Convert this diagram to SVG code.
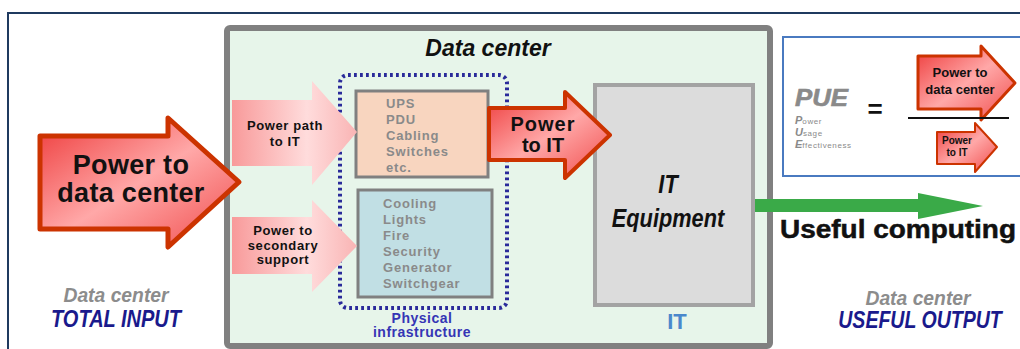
<svg xmlns="http://www.w3.org/2000/svg" width="1020" height="349" viewBox="0 0 1020 349">
<defs>
<style>
text{font-family:"Liberation Sans",Arial,sans-serif;}
.b{font-weight:bold;}
.bi{font-weight:bold;font-style:italic;}
.dark{fill:#111;}
.gtxt{fill:#8a8a8a;font-weight:bold;font-size:13px;letter-spacing:0.8px;}
.redarrow{fill:url(#redg);stroke:#cc3300;stroke-linejoin:round;}
.pinkarrow{fill:url(#pinkg);}
</style>
<linearGradient id="redg" x1="0" y1="0" x2="1" y2="1">
<stop offset="0" stop-color="#ee3a3a"/>
<stop offset="0.5" stop-color="#ffa8a8"/>
<stop offset="1" stop-color="#f04a4a"/>
</linearGradient>
<linearGradient id="pinkg" x1="0" y1="0" x2="1" y2="0">
<stop offset="0" stop-color="#f89a9a"/>
<stop offset="0.6" stop-color="#ffdcdc"/>
<stop offset="1" stop-color="#f9b4b4"/>
</linearGradient>
</defs>
<rect width="1020" height="349" fill="#ffffff"/>
<path d="M8,349 V13 H1020" fill="none" stroke="#1f3a5f" stroke-width="2"/>

<g id="datacenter">
<rect x="227" y="28" width="543" height="318" rx="3" fill="#e7f5ea" stroke="#808080" stroke-width="6"/>
<text x="488" y="56" font-size="23" text-anchor="middle" class="bi dark">Data center</text>
</g>

<g id="pue-box">
<rect x="783" y="37" width="245" height="139" fill="#ffffff" stroke="#4a7ac0" stroke-width="2"/>
<text x="795" y="106" font-size="23" class="bi" fill="#8a8a8a" stroke="#8a8a8a" stroke-width="0.6" textLength="53" lengthAdjust="spacingAndGlyphs">PUE</text>
<text x="795" y="124" fill="#8a8a8a"><tspan class="bi" font-size="11">P</tspan><tspan font-size="8" letter-spacing="0.6">ower</tspan></text>
<text x="795" y="136" fill="#8a8a8a"><tspan class="bi" font-size="11">U</tspan><tspan font-size="8" letter-spacing="0.6">sage</tspan></text>
<text x="795" y="148" fill="#8a8a8a"><tspan class="bi" font-size="11">E</tspan><tspan font-size="8" letter-spacing="0.6">ffectiveness</tspan></text>
<text x="875" y="118" font-size="26" text-anchor="middle" class="b dark">=</text>
<path class="redarrow" stroke-width="3" d="M918,56 H981 V46 L1015,83 L981,120 V109 H918 Z"/>
<text x="960" y="77" font-size="13" text-anchor="middle" class="b dark">Power to</text>
<text x="960" y="94" font-size="13" text-anchor="middle" class="b dark">data center</text>
<line x1="908" y1="118" x2="1009" y2="118" stroke="#111" stroke-width="2"/>
<path class="redarrow" stroke-width="2" d="M937,132 H975 V123 L997,147 L975,172 V164 H937 Z"/>
<text x="957" y="144" font-size="10" text-anchor="middle" class="b dark">Power</text>
<text x="957" y="156" font-size="10" text-anchor="middle" class="b dark">to IT</text>
</g>

<g id="physical-infrastructure">
<rect x="340" y="75" width="167" height="233" rx="8" fill="none" stroke="#2a2a9a" stroke-width="4" stroke-dasharray="2.8 3.2"/>
<text x="422" y="323" font-size="14" text-anchor="middle" class="b" fill="#3535b5" letter-spacing="0.5">Physical</text>
<text x="422" y="337" font-size="14" text-anchor="middle" class="b" fill="#3535b5" letter-spacing="0.5">infrastructure</text>
</g>

<g id="power-path-box">
<rect x="356" y="91" width="132" height="86" fill="#f8d5bf" stroke="#808080" stroke-width="3"/>
<text class="gtxt" x="386" y="108">UPS</text>
<text class="gtxt" x="386" y="124">PDU</text>
<text class="gtxt" x="386" y="140">Cabling</text>
<text class="gtxt" x="386" y="156">Switches</text>
<text class="gtxt" x="386" y="172">etc.</text>
</g>

<g id="secondary-box">
<rect x="358" y="190" width="134" height="107" fill="#c1dfe4" stroke="#808080" stroke-width="3"/>
<text class="gtxt" x="383" y="208">Cooling</text>
<text class="gtxt" x="383" y="224">Lights</text>
<text class="gtxt" x="383" y="240">Fire</text>
<text class="gtxt" x="383" y="256">Security</text>
<text class="gtxt" x="383" y="272">Generator</text>
<text class="gtxt" x="383" y="288">Switchgear</text>
</g>

<g id="it-equipment">
<rect x="595" y="85" width="158" height="220" fill="#dcdcdc" stroke="#a3a3a3" stroke-width="4"/>
<text transform="translate(668,193) scale(0.87,1)" font-size="25" text-anchor="middle" class="bi dark">IT</text>
<text transform="translate(668,227) scale(0.87,1)" font-size="25" text-anchor="middle" class="bi dark">Equipment</text>
<text x="677" y="329" font-size="22" text-anchor="middle" class="b" fill="#4a88cc">IT</text>
</g>

<g id="input-label">
<text transform="translate(116,302) scale(0.92,1)" font-size="21" text-anchor="middle" class="bi" fill="#8c8c8c">Data center</text>
<text transform="translate(116,327) scale(0.87,1)" font-size="23" text-anchor="middle" class="bi" fill="#1a1a8c">TOTAL INPUT</text>
</g>

<g id="output-label">
<text transform="translate(918,305) scale(0.92,1)" font-size="21" text-anchor="middle" class="bi" fill="#8c8c8c">Data center</text>
<text transform="translate(920,328) scale(0.85,1)" font-size="23" text-anchor="middle" class="bi" fill="#1a1a8c">USEFUL OUTPUT</text>
</g>

<g id="connectors">
<path class="redarrow" stroke-width="5" d="M40,136 H168 V118 L239,182 L168,247 V229 H40 Z"/>
<text x="131" y="174" font-size="27" text-anchor="middle" class="b dark" letter-spacing="0.3">Power to</text>
<text x="131" y="202" font-size="27" text-anchor="middle" class="b dark" letter-spacing="0.3">data center</text>

<path class="pinkarrow" d="M232,100 H312 V81 L357,132 L312,185 V166 H232 Z"/>
<text x="285" y="130" font-size="13" text-anchor="middle" class="b dark" letter-spacing="0.6">Power path</text>
<text x="285" y="146" font-size="13" text-anchor="middle" class="b dark" letter-spacing="0.6">to IT</text>

<path class="pinkarrow" d="M232,217 H312 V200 L357,246 L312,292 V274 H232 Z"/>
<text x="283" y="235" font-size="13" text-anchor="middle" class="b dark" letter-spacing="0.6">Power to</text>
<text x="283" y="250" font-size="13" text-anchor="middle" class="b dark" letter-spacing="0.6">secondary</text>
<text x="283" y="264" font-size="13" text-anchor="middle" class="b dark" letter-spacing="0.6">support</text>

<path class="redarrow" stroke-width="4" d="M489,108 H565 V92 L610,135 L565,178 V160 H489 Z"/>
<text x="543" y="131" font-size="20" text-anchor="middle" class="b dark" letter-spacing="1">Power</text>
<text x="543" y="152" font-size="20" text-anchor="middle" class="b dark">to IT</text>

<path fill="#3aaa48" d="M755,199 H918 V193 L983,206 L918,219 V212 H755 Z"/>
<text x="780" y="238" font-size="25" class="b dark" stroke="#111" stroke-width="0.5" textLength="236" lengthAdjust="spacingAndGlyphs">Useful computing</text>
</g>
</svg>
